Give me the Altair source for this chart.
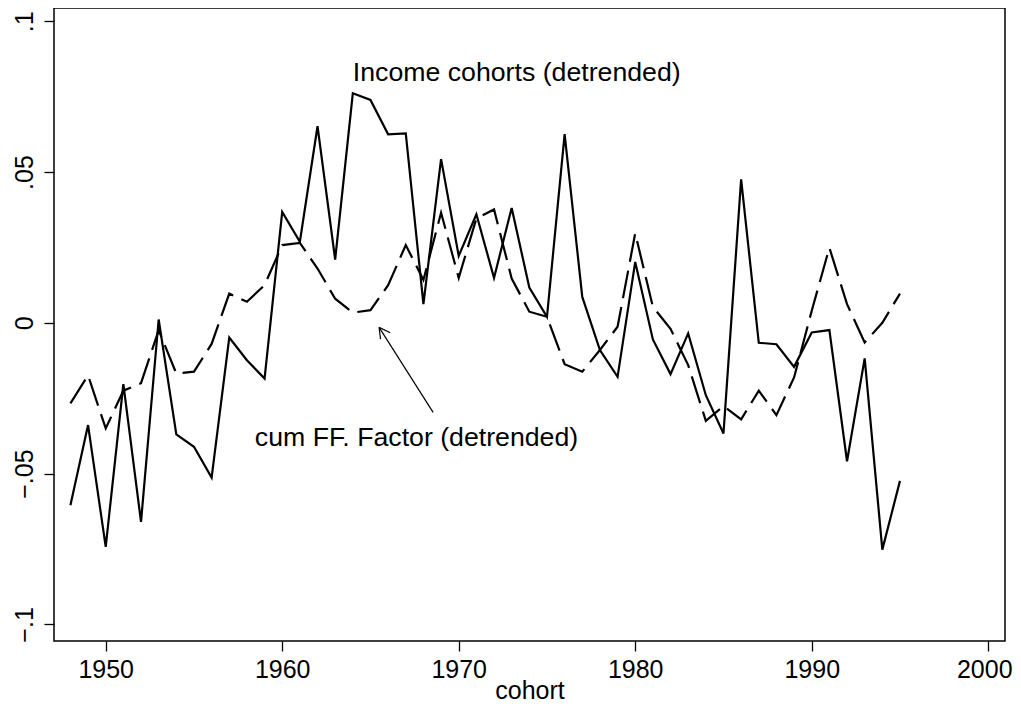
import altair as alt
import pandas as pd

# ---- data ----
years = list(range(1948, 1996))

income_cohorts = [
    -0.0605, -0.0339, -0.0743, -0.0203, -0.0660, 0.0011, -0.0370, -0.0411,
    -0.0513, -0.0049, -0.0124, -0.0185, 0.0368, 0.0269, 0.0652, 0.0210,
    0.0761, 0.0739, 0.0625, 0.0628, 0.0062, 0.0543, 0.0222, 0.0360,
    0.0149, 0.0381, 0.0117, 0.0020, 0.0626, 0.0086, -0.0090, -0.0179,
    0.0202, -0.0055, -0.0170, -0.0035, -0.0240, -0.0367, 0.0476, -0.0066,
    -0.0071, -0.0146, -0.0032, -0.0024, -0.0459, -0.0118, -0.0752, -0.0524,
]

ff_factor = [
    -0.0267, -0.0174, -0.0350, -0.0225, -0.0200, -0.0024, -0.0168, -0.0162,
    -0.0070, 0.0097, 0.0070, 0.0125, 0.0258, 0.0265, 0.0180, 0.0080,
    0.0034, 0.0042, 0.0125, 0.0258, 0.0142, 0.0365, 0.0149, 0.0346,
    0.0376, 0.0147, 0.0037, 0.0020, -0.0137, -0.0162, -0.0090, -0.0013,
    0.0297, 0.0053, -0.0020, -0.0140, -0.0325, -0.0276, -0.0320, -0.0225,
    -0.0306, -0.0181, 0.0040, 0.0249, 0.0062, -0.0065, 0.0000, 0.0097,
]

x_ticks = [1950, 1960, 1970, 1980, 1990, 2000]
y_ticks = [-0.1, -0.05, 0, 0.05, 0.1]

label_text = ["Income cohorts (detrended)", "cum FF. Factor (detrended)"]
label_x = [1964.0, 1958.45]
label_y = [0.0803, -0.0409]

# arrow: shaft tail -> tip, and two head strokes from the tip
arrow_x = [1968.55, 1966.12, 1965.57]
arrow_y = [-0.0297, -0.0033, -0.0054]
arrow_tip_x = [1965.49, 1965.49, 1965.49]
arrow_tip_y = [-0.0015, -0.0015, -0.0015]

FONT = "Liberation Sans"

df_inc = pd.DataFrame({"cohort": years, "value": income_cohorts})
df_ff = pd.DataFrame({"cohort": years, "value": ff_factor})
df_lab = pd.DataFrame({"text": label_text, "x": label_x, "y": label_y})
df_arr = pd.DataFrame({"x": arrow_x, "y": arrow_y, "x2": arrow_tip_x, "y2": arrow_tip_y})

xscale = alt.Scale(domain=[1947.07, 2000.95], nice=False, zero=False)
yscale = alt.Scale(domain=[-0.1055, 0.1044], nice=False, zero=False)

xaxis = alt.Axis(
    values=x_ticks, format="d", title="cohort", grid=False, domain=False,
    tickSize=10, tickColor="black", tickWidth=1.3,
    labelFont=FONT, labelFontSize=25, labelColor="black", labelPadding=6,
    labelOffset={"condition": {"test": "datum.value == 2000", "value": -4}, "value": 0},
    titleFont=FONT, titleFontSize=25, titleFontWeight="normal", titleColor="black",
    titlePadding=-4, labelFlush=False, labelOverlap=False,
)
yaxis = alt.Axis(
    values=y_ticks, title=None, grid=False, domain=False,
    tickSize=10, tickColor="black", tickWidth=1.3,
    labelFont=FONT, labelFontSize=25, labelColor="black",
    labelAngle=-90, labelAlign="center", labelBaseline="alphabetic", labelPadding=12,
    labelExpr="datum.value == 0 ? '0' : replace(format(datum.value, '.2~f'), '0.', '.')",
    labelFlush=False, labelOverlap=False,
)

inc_line = alt.Chart(df_inc).mark_line(color="black", strokeWidth=2.2).encode(
    x=alt.X("cohort:Q", scale=xscale, axis=xaxis),
    y=alt.Y("value:Q", scale=yscale, axis=yaxis),
)

ff_line = alt.Chart(df_ff).mark_line(color="black", strokeWidth=2.2, strokeDash=[28, 9]).encode(
    x=alt.X("cohort:Q", scale=xscale),
    y=alt.Y("value:Q", scale=yscale),
)

labels = alt.Chart(df_lab).mark_text(
    font=FONT, fontSize=26.7, color="black", align="left", baseline="alphabetic"
).encode(
    x=alt.X("x:Q", scale=xscale),
    y=alt.Y("y:Q", scale=yscale),
    text="text:N",
)

arrow = alt.Chart(df_arr).mark_rule(color="black", strokeWidth=1.2).encode(
    x=alt.X("x:Q", scale=xscale),
    y=alt.Y("y:Q", scale=yscale),
    x2="x2:Q",
    y2="y2:Q",
)

chart = (
    alt.layer(inc_line, ff_line, labels, arrow)
    .properties(
        width=951, height=633,
        autosize=alt.AutoSizeParams(type="none"),
        padding={"left": 46, "top": 0, "right": 8, "bottom": 62},
        background="white",
    )
    .configure_view(stroke="black", strokeWidth=1.5)
)

chart.save("out.html", embed_options={"renderer": "svg", "actions": False})
